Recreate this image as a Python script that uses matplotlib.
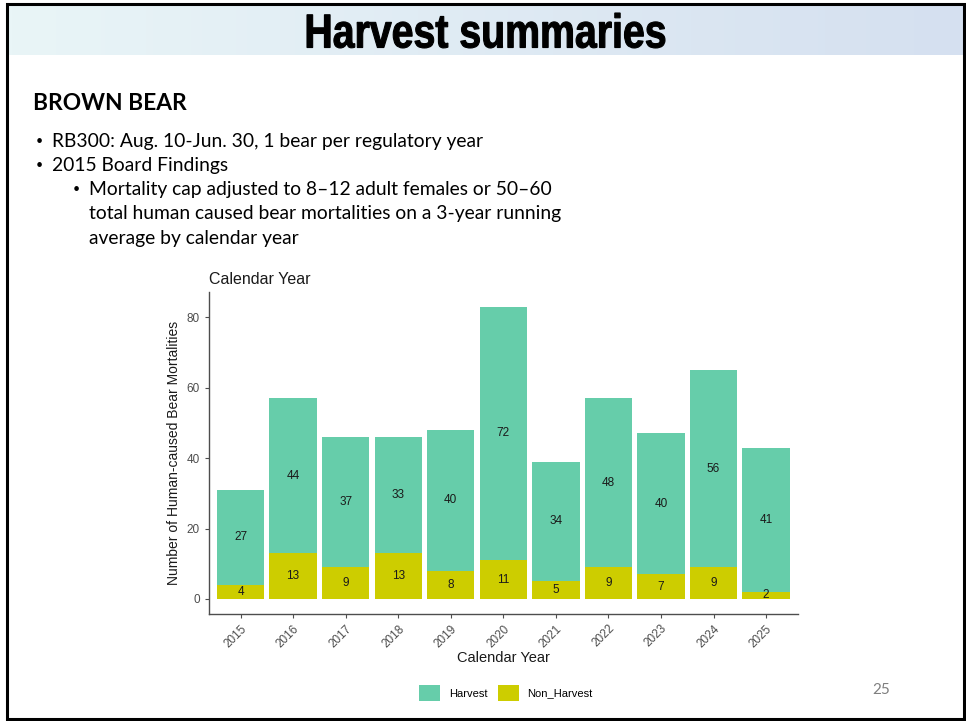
import numpy as np
import matplotlib
matplotlib.use('Agg')
import matplotlib.pyplot as plt
from matplotlib.patches import Rectangle, Patch, PathPatch
from matplotlib.textpath import TextPath
from matplotlib.font_manager import FontProperties
from matplotlib.transforms import Affine2D, IdentityTransform

# data
years = ['2015', '2016', '2017', '2018', '2019', '2020', '2021', '2022', '2023', '2024', '2025']
harvest = [27, 44, 37, 33, 40, 72, 34, 48, 40, 56, 41]
non_harvest = [4, 13, 9, 13, 8, 11, 5, 9, 7, 9, 2]

harvest_col = '#66CDAA'
non_harvest_col = '#CDCD00'

plt.rcParams['font.family'] = ['Liberation Sans', 'DejaVu Sans']

W, H = 966, 721
fig = plt.figure(figsize=(W / 100, H / 100), dpi=100)

def fx(px):
    return px / W

def fy(py):
    return 1 - py / H

# title band with a soft gradient
band = fig.add_axes([fx(8), fy(55), fx(955), (55 - 5) / H])
grad = np.linspace(0, 1, 256).reshape(1, -1)
c1 = np.array([233, 245, 247]) / 255
c2 = np.array([213, 224, 240]) / 255
img = c1[None, None, :] * (1 - grad[..., None]) + c2[None, None, :] * grad[..., None]
band.imshow(img, aspect='auto', extent=[0, 1, 0, 1])
band.axis('off')

# slide border
fig.patches.append(Rectangle((fx(7), fy(719)), fx(957), (719 - 4) / H, transform=fig.transFigure,
                             fill=False, edgecolor='black', linewidth=2.2))

# condensed heavy title: squeeze a bold text path into the box it fills on the slide
tp = TextPath((0, 0), 'Harvest summaries', size=1,
              prop=FontProperties(family='Liberation Sans', weight='bold'))
bb = tp.get_extents()
sx = (665 - 307) / bb.width
sy = (48 - 13) / bb.height
tr = Affine2D().translate(-bb.x0, -bb.y0).scale(sx, sy).translate(307, H - 48)
title = PathPatch(tr.transform_path(tp), facecolor='black', edgecolor='black', linewidth=0.8,
                  transform=IdentityTransform())
fig.patches.append(title)

fig.text(fx(33), fy(103), 'BROWN BEAR', ha='left', va='center', fontsize=16.4, family='Lato',
         weight='bold', color='black')

bullets = [
    (36, 52, 141, 'RB300: Aug. 10-Jun. 30, 1 bear per regulatory year'),
    (36, 52, 165, '2015 Board Findings'),
]
for bx, tx, ty, s in bullets:
    fig.text(fx(bx), fy(ty), '\u2022', ha='left', va='center', fontsize=9, family='Lato')
    fig.text(fx(tx), fy(ty), s, ha='left', va='center', fontsize=13.9, family='Lato')
fig.text(fx(73), fy(189), '\u2022', ha='left', va='center', fontsize=9, family='Lato')
sub = ['Mortality cap adjusted to 8\u201312 adult females or 50\u201360',
       'total human caused bear mortalities on a 3-year running',
       'average by calendar year']
for i, s in enumerate(sub):
    fig.text(fx(89), fy(190 + 24 * i), s, ha='left', va='center', fontsize=13.9, family='Lato')

# chart
ax = fig.add_axes([fx(209), fy(613.6), fx(797.6 - 209), (613.6 - 292) / H])
x = np.arange(len(years))
ax.bar(x, non_harvest, width=0.9, color=non_harvest_col, label='Non_Harvest')
ax.bar(x, harvest, width=0.9, bottom=non_harvest, color=harvest_col, label='Harvest')
for i in range(len(years)):
    ax.text(x[i], non_harvest[i] / 2, str(non_harvest[i]), ha='center', va='center',
            fontsize=8.5, color='#1a1a1a')
    ax.text(x[i], non_harvest[i] + harvest[i] / 2, str(harvest[i]), ha='center', va='center',
            fontsize=8.5, color='#1a1a1a')

tot = max(h + n for h, n in zip(harvest, non_harvest))
ax.set_xlim(-0.6, len(years) - 0.4)
ax.set_ylim(-tot * 0.05, tot * 1.05)
ax.set_yticks([0, 20, 40, 60, 80])
ax.set_xticks(x)
ax.set_xticklabels(years, rotation=45, ha='right', rotation_mode='anchor')
ax.tick_params(colors='#4d4d4d', labelsize=8.5, length=3, width=0.8, labelcolor='#4d4d4d')
for side in ['top', 'right']:
    ax.spines[side].set_visible(False)
for side in ['left', 'bottom']:
    ax.spines[side].set_color('#4d4d4d')
    ax.spines[side].set_linewidth(1.0)
ax.set_xlabel('Calendar Year', fontsize=10.5, color='#1a1a1a', labelpad=1)
ax.set_ylabel('Number of Human-caused Bear Mortalities', fontsize=10, color='#1a1a1a', labelpad=4)
ax.set_title('Calendar Year', loc='left', fontsize=11.5, color='#1a1a1a', pad=6)

handles = [Patch(facecolor=harvest_col, label='Harvest'),
           Patch(facecolor=non_harvest_col, label='Non_Harvest')]
fig.legend(handles=handles, loc='center', bbox_to_anchor=(fx(506), fy(693)), ncol=2,
           frameon=False, fontsize=8, handlelength=1.9, handleheight=1.9, columnspacing=0.9,
           handletextpad=0.8)

fig.text(fx(881), fy(690), '25', ha='center', va='center', fontsize=11, family='Lato', color='#7f7f7f')

fig.savefig('out.png', dpi=100)
